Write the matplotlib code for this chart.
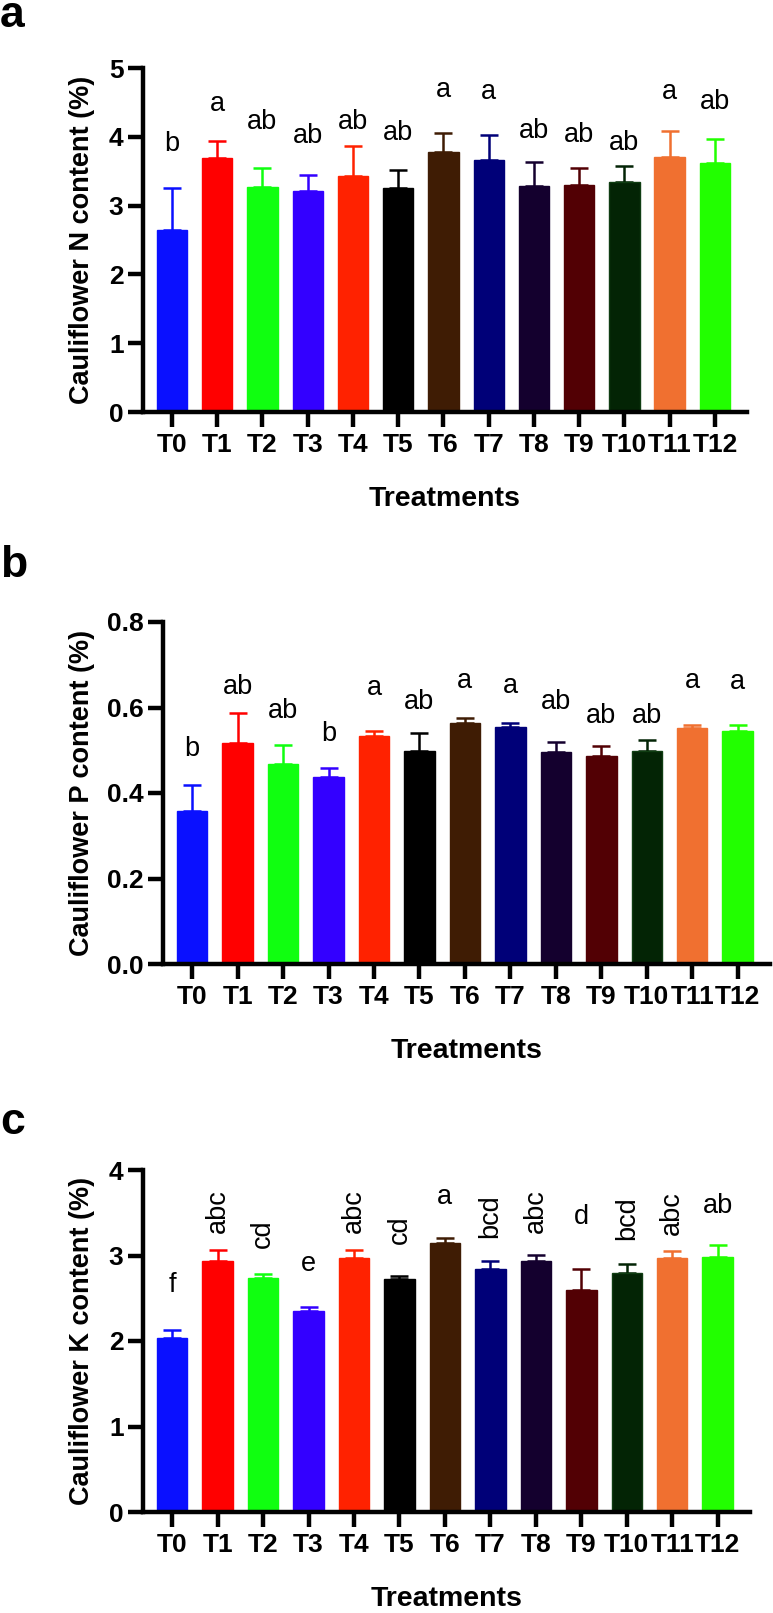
import matplotlib
matplotlib.use("Agg")
import matplotlib.pyplot as plt
import numpy as np

plt.rcParams['font.family'] = ['Liberation Sans', 'DejaVu Sans']

treatments = ["T0", "T1", "T2", "T3", "T4", "T5", "T6", "T7", "T8", "T9", "T10", "T11", "T12"]
colors = ["#0A10FF", "#FF0000", "#10FF10", "#3300FF", "#FF2200", "#000000", "#3F1C04",
          "#000078", "#14002E", "#520004", "#032405", "#F07030", "#22FF00"]
edge_colors = ["#0A10FF", "#FF0000", "#10FF10", "#3300FF", "#FF2200", "#000000", "#3F1C04",
               "#000078", "#14002E", "#520004", "#0F3D12", "#F07030", "#22FF00"]

# Panel a: N content
n_mean = [2.65, 3.69, 3.27, 3.21, 3.43, 3.26, 3.78, 3.66, 3.28, 3.30, 3.35, 3.70, 3.62]
n_err = [0.60, 0.25, 0.28, 0.23, 0.44, 0.26, 0.28, 0.37, 0.35, 0.25, 0.23, 0.39, 0.35]
n_letters = ["b", "a", "ab", "ab", "ab", "ab", "a", "a", "ab", "ab", "ab", "a", "ab"]
n_letter_y = [3.90, 4.48, 4.22, 4.01, 4.22, 4.05, 4.68, 4.65, 4.09, 4.02, 3.91, 4.65, 4.51]

# Panel b: P content
p_mean = [0.359, 0.518, 0.467, 0.437, 0.533, 0.499, 0.563, 0.555, 0.495, 0.486, 0.499, 0.551, 0.546]
p_err = [0.060, 0.069, 0.046, 0.022, 0.011, 0.041, 0.013, 0.008, 0.024, 0.023, 0.026, 0.009, 0.014]
p_letters = ["b", "ab", "ab", "b", "a", "ab", "a", "a", "ab", "ab", "ab", "a", "a"]
p_letter_y = [0.504, 0.647, 0.591, 0.539, 0.645, 0.612, 0.662, 0.651, 0.612, 0.579, 0.579, 0.662, 0.660]

# Panel c: K content
k_mean = [2.03, 2.94, 2.74, 2.35, 2.97, 2.73, 3.15, 2.84, 2.94, 2.60, 2.79, 2.97, 2.98]
k_err = [0.10, 0.12, 0.04, 0.05, 0.09, 0.03, 0.05, 0.09, 0.07, 0.24, 0.11, 0.08, 0.14]
k_letters = ["f", "abc", "cd", "e", "abc", "cd", "a", "bcd", "abc", "d", "bcd", "abc", "ab"]
k_letter_y = [2.66, 3.52, 3.26, 2.90, 3.52, 3.30, 3.69, 3.46, 3.52, 3.45, 3.44, 3.50, 3.58]
k_letter_vertical = [False, True, True, False, True, True, False, True, True, False, True, True, False]

W, H = 773, 1613
fig = plt.figure(figsize=(W / 100, H / 100), dpi=100)


def panel(rect, means, errs, letters, letter_y, ylim, yticks, yticklabels, ylabel,
          ylabel_x, panel_letter, panel_baseline_px, vertical=None):
    ax = fig.add_axes(rect)
    x = np.arange(len(treatments))
    ax.bar(x, means, width=0.67, color=colors, edgecolor=edge_colors, linewidth=1.0, zorder=2)
    for i in range(len(x)):
        ax.errorbar(x[i], means[i], yerr=[[0], [errs[i]]], fmt='none', ecolor=colors[i],
                    elinewidth=1.8, capsize=6.5, capthick=1.8, zorder=1)
        rot = 90 if (vertical is not None and vertical[i]) else 0
        ax.text(x[i], letter_y[i], letters[i], ha='center', va='center', fontsize=19.5,
                rotation=rot, rotation_mode='anchor', color='black')
    ax.set_xlim(-0.64, 12.71)
    ax.set_ylim(*ylim)
    ax.set_yticks(yticks)
    ax.set_yticklabels(yticklabels, fontsize=19, fontweight='bold')
    ax.set_xticks(x)
    ax.set_xticklabels(treatments, fontsize=19, fontweight='bold')
    for s in ['top', 'right']:
        ax.spines[s].set_visible(False)
    for s in ['left', 'bottom']:
        ax.spines[s].set_linewidth(3.2)
    ax.tick_params(axis='both', width=3.2, length=11, pad=3)
    ax.tick_params(axis='x', pad=4)
    ax.set_ylabel(ylabel, fontsize=19.5, fontweight='bold', va='center')
    ax.yaxis.set_label_coords(ylabel_x, 0.5)
    ax.set_xlabel("Treatments", fontsize=20.5, fontweight='bold', labelpad=21)
    fig.text(0.0, 1 - panel_baseline_px / H, panel_letter, fontsize=32, fontweight='bold',
             ha='left', va='baseline')
    return ax


panel([143 / W, (H - 412) / H, 604 / W, 344 / H], n_mean, n_err, n_letters, n_letter_y,
      (0, 5), [0, 1, 2, 3, 4, 5], ["0", "1", "2", "3", "4", "5"],
      "Cauliflower N content (%)", -0.101, "a", 27)

panel([163 / W, (H - 964) / H, 607 / W, 342 / H], p_mean, p_err, p_letters, p_letter_y,
      (0, 0.8), [0, 0.2, 0.4, 0.6, 0.8], ["0.0", "0.2", "0.4", "0.6", "0.8"],
      "Cauliflower P content (%)", -0.133, "b", 577)

panel([143 / W, (H - 1512) / H, 607 / W, 342 / H], k_mean, k_err, k_letters, k_letter_y,
      (0, 4), [0, 1, 2, 3, 4], ["0", "1", "2", "3", "4"],
      "Cauliflower K content (%)", -0.100, "c", 1134, vertical=k_letter_vertical)

fig.savefig("out.png", dpi=100)
